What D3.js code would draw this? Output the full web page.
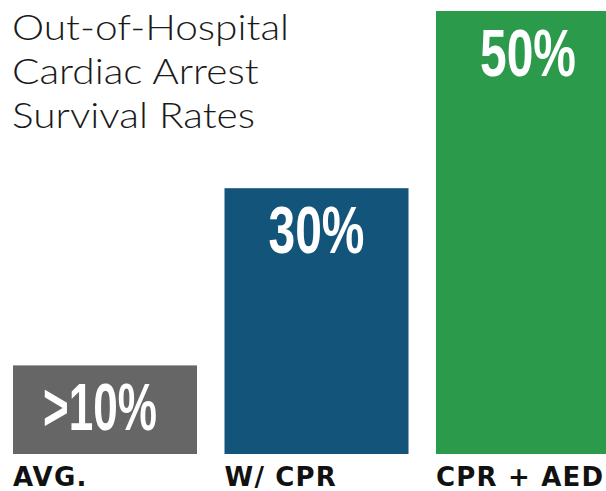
<!DOCTYPE html>
<html><head><meta charset="utf-8">
<script src="https://cdn.jsdelivr.net/npm/d3@7"></script>
<style>body{margin:0;background:#fff}svg{display:block}</style>
</head><body>
<script>
const categories = ["AVG.", "W/ CPR", "CPR + AED"];
const values = [10, 30, 50];
const valueLabels = [">10%", "30%", "50%"];
const colors = ["#666666", "#13547b", "#2b9a4a"];
const titleLines = ["Out-of-Hospital", "Cardiac Arrest", "Survival Rates"];

const W = 606, H = 491;
const svg = d3.select("body").append("svg").attr("width", W).attr("height", H);

const bw = 184, gap = 27.5;
const x = d3.scaleBand().domain(categories)
  .range([13, 13 + 3 * bw + 2 * gap])
  .paddingInner(gap / (bw + gap)).paddingOuter(0);
const y = d3.scaleLinear().domain([0, 50]).range([454, 11]);

svg.selectAll("rect.bar").data(values).join("rect")
  .attr("class", "bar")
  .attr("x", (d, i) => x(categories[i]))
  .attr("y", d => y(d))
  .attr("width", (d, i) => Math.min(x.bandwidth(), W - x(categories[i])))
  .attr("height", d => y(0) - y(d))
  .attr("fill", (d, i) => colors[i]);

const vals = svg.selectAll("text.val").data(values).join("text")
  .attr("class", "val")
  .attr("text-anchor", "middle")
  .attr("fill", "#fff")
  .attr("font-family", "'Liberation Sans Narrow', 'Liberation Sans', sans-serif")
  .attr("font-weight", "bold")
  .attr("font-size", 66)
  .text((d, i) => valueLabels[i]);
vals.attr("transform", function(d, i) {
  const cx = x(categories[i]) + x.bandwidth() / 2 - (i === 0 ? 5 : 0);
  const target = i === 0 ? 114 : 96;
  const sx = target / this.getComputedTextLength();
  return `translate(${cx},${y(d) + 65}) scale(${sx},1)`;
});

svg.selectAll("text.cat").data(categories).join("text")
  .attr("class", "cat")
  .attr("x", d => x(d))
  .attr("y", 486)
  .attr("fill", "#111")
  .attr("font-family", "'DejaVu Sans', sans-serif")
  .attr("font-weight", "bold")
  .attr("font-size", 26)
  .attr("letter-spacing", 1.2)
  .text(d => d);

const titles = svg.selectAll("text.title").data(titleLines).join("text")
  .attr("class", "title")
  .attr("x", 12)
  .attr("y", (d, i) => 40 + i * 44)
  .attr("fill", "#1a1a1a")
  .attr("font-family", "Lato, sans-serif")
  .attr("font-weight", 300)
  .attr("font-size", 35)
  .text(d => d);
const w0 = titles.nodes()[0].getComputedTextLength();
const k = 277 / w0;
titles.attr("textLength", function() { return this.getComputedTextLength() * k; })
  .attr("lengthAdjust", "spacingAndGlyphs");
</script>
</body></html>
